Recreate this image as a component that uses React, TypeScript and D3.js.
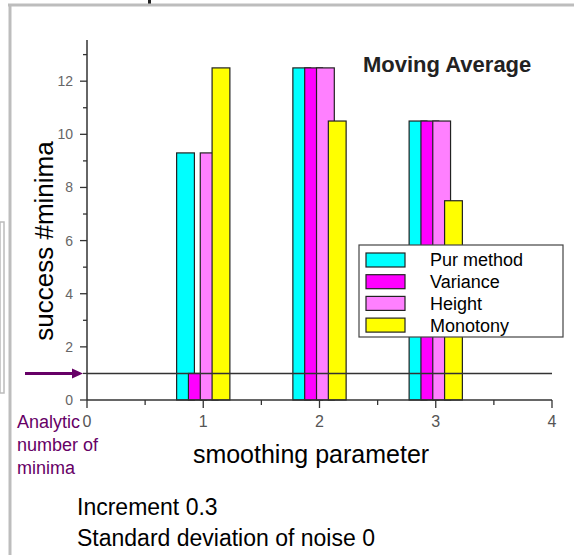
import React from "react";
import * as d3 from "d3";

const categories = [1, 2, 3];
const seriesNames = ["Pur method", "Variance", "Height", "Monotony"];
const purMethod = [9.3, 12.5, 10.5];
const variance = [1, 12.5, 10.5];
const height = [9.3, 12.5, 10.5];
const monotony = [12.5, 10.5, 7.5];
const seriesColors = ["#00ffff", "#ff00ff", "#ff80ff", "#ffff00"];
const yMajorTicks = [0, 2, 4, 6, 8, 10, 12];
const yMinorTicks = [1, 3, 5, 7, 9, 11, 13];
const xMajorTicks = [0, 1, 2, 3, 4];
const xMinorTicks = [0.5, 1.5, 2.5, 3.5];
const analyticMinima = 1;

const W = 574;
const H = 555;

export default function App() {
  const x = d3.scaleLinear().domain([0, 4]).range([87, 552]);
  const y = d3.scaleLinear().domain([0, 13.55]).range([400, 40]);
  const series = [purMethod, variance, height, monotony];
  const barW = x(0.153) - x(0);
  const font = "Liberation Sans, Arial, sans-serif";

  return (
    <svg
      width={W}
      height={H}
      style={{ position: "absolute", left: 0, top: 0, background: "#fff" }}
      fontFamily={font}
    >
      {/* slide frame */}
      <rect x={0} y={0} width={W} height={H} fill="#fff" />
      <rect x={0} y={222} width={4} height={171} fill="none" stroke="#bbb" strokeWidth={1.5} />
      <rect x={148} y={0} width={3} height={5} fill="#222" />
      <line x1={8} y1={5} x2={W} y2={5} stroke="#bdbdbd" strokeWidth={3} />
      <line x1={10} y1={5} x2={10} y2={H} stroke="#bdbdbd" strokeWidth={3} />

      {/* bars */}
      {categories.map((c, ci) =>
        series.map((s, si) => {
          const cx = c + (si - 1.5) * 0.1017;
          const left = x(cx) - barW / 2;
          return (
            <rect
              key={`${ci}-${si}`}
              x={left}
              y={y(s[ci])}
              width={barW}
              height={y(0) - y(s[ci])}
              fill={seriesColors[si]}
              stroke="#222"
              strokeWidth={1.2}
            />
          );
        })
      )}

      {/* analytic line */}
      <line
        x1={x(0)}
        y1={y(analyticMinima)}
        x2={x(4)}
        y2={y(analyticMinima)}
        stroke="#333"
        strokeWidth={1.5}
      />

      {/* y axis */}
      <line x1={x(0)} y1={y(0)} x2={x(0)} y2={40} stroke="#333" strokeWidth={1.5} />
      {yMajorTicks.map((t) => (
        <g key={`ym${t}`}>
          <line x1={x(0) - 7} y1={y(t)} x2={x(0)} y2={y(t)} stroke="#333" strokeWidth={1.3} />
          <text x={x(0) - 14} y={y(t) + 5} textAnchor="end" fontSize={14} fill="#666">
            {t}
          </text>
        </g>
      ))}
      {yMinorTicks.map((t) => (
        <line key={`yn${t}`} x1={x(0) - 4} y1={y(t)} x2={x(0)} y2={y(t)} stroke="#333" strokeWidth={1.3} />
      ))}

      {/* x axis */}
      <line x1={x(0)} y1={y(0)} x2={x(4)} y2={y(0)} stroke="#333" strokeWidth={1.5} />
      {xMajorTicks.map((t) => (
        <g key={`xm${t}`}>
          <line x1={x(t)} y1={y(0)} x2={x(t)} y2={y(0) + 8} stroke="#333" strokeWidth={1.3} />
          <text x={x(t)} y={y(0) + 27} textAnchor="middle" fontSize={16} fill="#555">
            {t}
          </text>
        </g>
      ))}
      {xMinorTicks.map((t) => (
        <line key={`xn${t}`} x1={x(t)} y1={y(0)} x2={x(t)} y2={y(0) + 5} stroke="#333" strokeWidth={1.3} />
      ))}

      {/* titles */}
      <text x={363} y={72} fontSize={22} fontWeight="bold" fill="#222">
        Moving Average
      </text>
      <text
        transform={`translate(53, 241) rotate(-90)`}
        textAnchor="middle"
        fontSize={26}
        fill="#000"
      >
        success #minima
      </text>
      <text x={311} y={463} textAnchor="middle" fontSize={25} fill="#000">
        smoothing parameter
      </text>

      {/* legend */}
      <rect x={359} y={245} width={204} height={92} fill="#fff" stroke="#444" strokeWidth={1.2} />
      {seriesNames.map((n, i) => (
        <g key={n}>
          <rect
            x={366}
            y={253 + i * 21.7}
            width={39}
            height={14}
            fill={seriesColors[i]}
            stroke="#222"
            strokeWidth={1.2}
          />
          <text x={430} y={266 + i * 22} fontSize={18} fill="#000">
            {n}
          </text>
        </g>
      ))}

      {/* annotation */}
      <line x1={25} y1={y(analyticMinima)} x2={74} y2={y(analyticMinima)} stroke="#660066" strokeWidth={3} />
      <path
        d={`M ${83} ${y(analyticMinima)} L ${72} ${y(analyticMinima) - 5} L ${72} ${y(analyticMinima) + 5} Z`}
        fill="#660066"
      />
      <text fontSize={18} fill="#660066">
        <tspan x={17} y={428}>Analytic</tspan>
        <tspan x={17} y={451}>number of</tspan>
        <tspan x={17} y={474}>minima</tspan>
      </text>

      {/* notes */}
      <text fontSize={23} fill="#000">
        <tspan x={77} y={515}>Increment 0.3</tspan>
        <tspan x={77} y={546}>Standard deviation of noise 0</tspan>
      </text>
    </svg>
  );
}
